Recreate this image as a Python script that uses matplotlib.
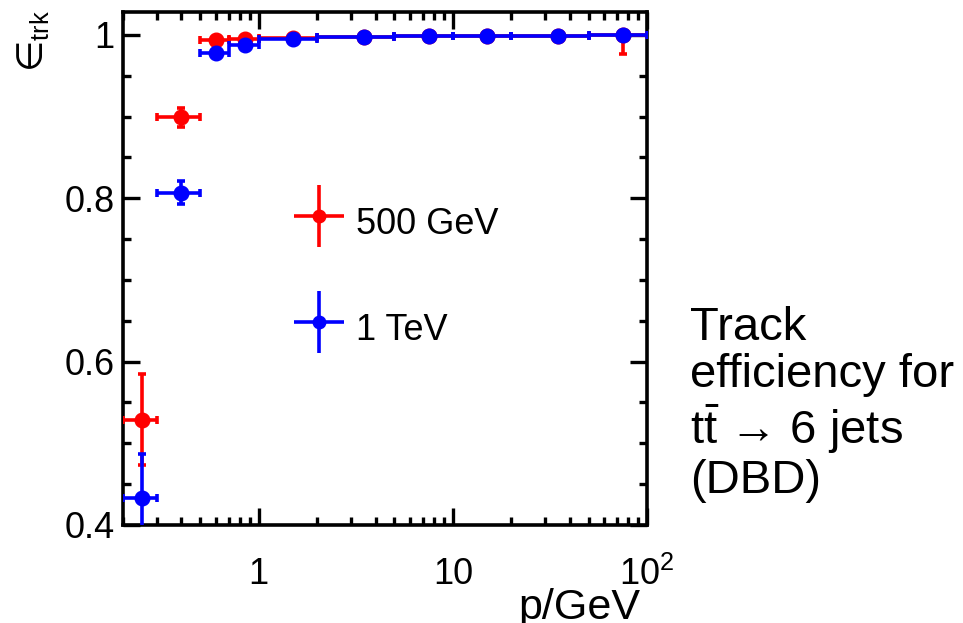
import numpy as np
import matplotlib
matplotlib.use("Agg")
import matplotlib.pyplot as plt
from matplotlib import ticker
from matplotlib.legend_handler import HandlerErrorbar

plt.rcParams['font.family'] = ['Liberation Sans', 'DejaVu Sans']
plt.rcParams['mathtext.fontset'] = 'custom'
plt.rcParams['mathtext.rm'] = 'Liberation Sans'
plt.rcParams['mathtext.it'] = 'Liberation Sans:italic'

# momentum bins (GeV)
bin_lo = [0.2, 0.3, 0.5, 0.7, 1, 2, 5, 10, 20, 50]
bin_hi = [0.3, 0.5, 0.7, 1, 2, 5, 10, 20, 50, 100]
p_center = [0.25, 0.4, 0.6, 0.85, 1.5, 3.5, 7.5, 15, 35, 75]

# 500 GeV
eff_500 = [0.529, 0.899, 0.994, 0.995, 0.996, 0.998, 0.999, 0.999, 0.999, 1.0]
err_500_lo = [0.056, 0.012, 0.004, 0.003, 0.002, 0.001, 0.001, 0.001, 0.001, 0.024]
err_500_hi = [0.056, 0.012, 0.004, 0.003, 0.002, 0.001, 0.001, 0.001, 0.001, 0.0]

# 1 TeV
eff_1tev = [0.433, 0.807, 0.978, 0.987, 0.995, 0.998, 0.999, 0.999, 0.999, 1.0]
err_1tev = [0.054, 0.014, 0.005, 0.004, 0.002, 0.001, 0.001, 0.001, 0.001, 0.001]

labels = ['500 GeV', '1 TeV']
colors = ['#ff0000', '#0000ff']

p = np.array(p_center)
xerr = [p - np.array(bin_lo), np.array(bin_hi) - p]

fig = plt.figure(figsize=(9.63, 6.23), dpi=100)
ax = fig.add_axes([123/963, 1-525/623, 524/963, 513/623])

style = dict(fmt='o', ms=10.5, elinewidth=2.6, capsize=3, capthick=2.6)
ax.errorbar(p, eff_500, xerr=xerr, yerr=[err_500_lo, err_500_hi],
            color=colors[0], zorder=3, **style)
ax.errorbar(p, eff_1tev, xerr=xerr, yerr=err_1tev,
            color=colors[1], zorder=4, **style)

# legend proxies (no caps, as in the original)
h1 = ax.errorbar([], [], xerr=[], yerr=[], fmt='o', ms=9, elinewidth=2.6,
                 capsize=0, color=colors[0])
h2 = ax.errorbar([], [], xerr=[], yerr=[], fmt='o', ms=9, elinewidth=2.6,
                 capsize=0, color=colors[1])
leg = ax.legend([h1, h2], labels, loc='upper left', bbox_to_anchor=(0.326, 0.637),
                borderaxespad=0, borderpad=0, frameon=False, fontsize=26,
                handlelength=1.4, handleheight=1.7, handletextpad=0.33,
                labelspacing=1.58,
                handler_map={type(h1): HandlerErrorbar(xerr_size=0.7, yerr_size=0.86)})

ax.set_xscale('log')
ax.set_xlim(0.2, 100)
ax.set_ylim(0.4, 1.028)

ax.xaxis.set_major_locator(ticker.FixedLocator([1, 10, 100]))
ax.xaxis.set_major_formatter(ticker.FixedFormatter(['1', '10', '$10^2$']))
ax.xaxis.set_minor_locator(ticker.LogLocator(base=10, subs=np.arange(2, 10)))
ax.xaxis.set_minor_formatter(ticker.NullFormatter())
ax.yaxis.set_major_locator(ticker.MultipleLocator(0.2))
ax.yaxis.set_minor_locator(ticker.MultipleLocator(0.05))
ax.yaxis.set_major_formatter(ticker.FuncFormatter(lambda v, pos: '1' if abs(v-1) < 1e-6 else f'{v:.1f}'))

ax.tick_params(which='both', direction='in', top=True, right=True, width=2.4)
ax.tick_params(which='major', length=12, labelsize=26)
ax.tick_params(which='minor', length=6)
ax.tick_params(axis='y', pad=6)
ax.tick_params(axis='x', pad=23)
for s in ax.spines.values():
    s.set_linewidth(2.6)

ax.set_xlabel('p/GeV', fontsize=31, loc='right', va='baseline')
ax.xaxis.set_label_coords(640/524 - 123/524, (525-619)/513)
ax.set_ylabel('\u2208$_{\\mathrm{trk}}$', fontsize=26, loc='top', family=['DejaVu Sans'])
ax.yaxis.set_label_coords(-0.138, 1.004)

fig.text(690/963, 1-306/623, 'Track\nefficiency for\nt$\\bar{\\mathrm{t}}$ \u2192 6 jets\n(DBD)',
         fontsize=34, va='top', ha='left', linespacing=1.1)

fig.savefig('out.png', dpi=100)
